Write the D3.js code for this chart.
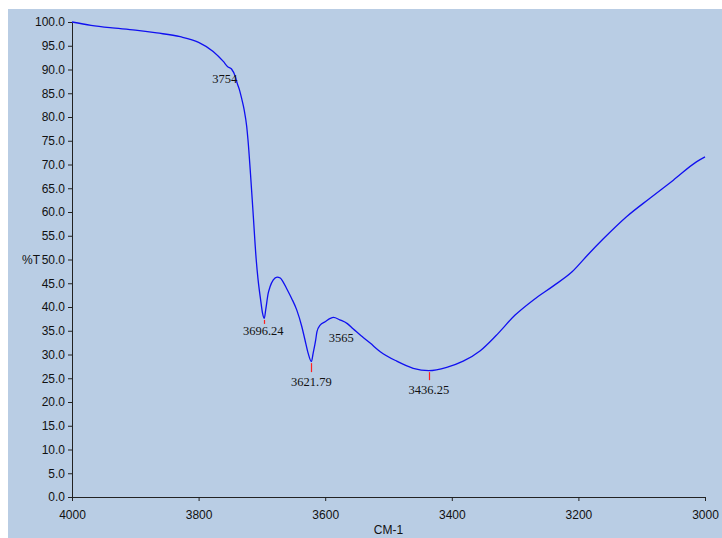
<!DOCTYPE html>
<html>
<head>
<meta charset="utf-8">
<script src="https://cdn.jsdelivr.net/npm/d3@7"></script>
<style>
  html, body { margin: 0; padding: 0; background: #ffffff; }
  svg { display: block; }
  .tick text { font-family: "Liberation Sans", Arial, sans-serif; font-size: 12px; fill: #111; }
  .axis path, .axis line { stroke: #222; }
  .peak { font-family: "Liberation Serif", "Times New Roman", serif; font-size: 12.5px; fill: #111; }
</style>
</head>
<body>
<svg id="chart" width="722" height="538"></svg>
<script>
// IR spectrum, transmittance (%T) vs wavenumber (cm-1)
const wavenumbers = [
  4000, 3970, 3940, 3900, 3866, 3829, 3800, 3777, 3761, 3754, 3748, 3742, 3739, 3735,
  3732, 3728, 3724, 3722, 3718, 3714, 3709, 3706, 3702, 3699, 3696.24, 3694, 3690,
  3687, 3682, 3676, 3671, 3667, 3661, 3653, 3645, 3637, 3632, 3627, 3621.79, 3619,
  3615, 3613, 3608, 3600, 3592, 3587, 3577, 3565, 3556, 3540, 3529, 3513, 3487, 3461,
  3436.25, 3408, 3382, 3355, 3330, 3300, 3270, 3240, 3210, 3185, 3161, 3124,
  3087, 3050, 3013, 3000
];
const transmittance = [
  100.0, 99.3, 98.8, 98.3, 97.7, 96.9, 95.7, 93.8, 91.7, 90.6, 90.1, 88.5, 87.1, 85.5,
  83.9, 81.5, 78.0, 75.2, 68.0, 60.0, 50.0, 45.7, 41.5, 38.7, 37.6, 39.4, 42.9,
  44.3, 45.7, 46.3, 46.1, 45.4, 43.9, 41.8, 39.4, 35.9, 33.1, 30.3, 28.5, 30.3,
  33.1, 34.8, 36.2, 36.9, 37.6, 37.8, 37.3, 36.5, 35.4, 33.6, 32.4, 30.6, 28.6, 27.1,
  26.6, 27.3, 28.6, 30.8, 34.0, 38.3, 41.6, 44.4, 47.4, 51.0, 54.3, 59.0,
  62.9, 66.7, 70.6, 71.6
];

// Annotated peaks
const peakWavenumbers = [3754, 3696.24, 3621.79, 3565, 3436.25];
const peakLabels = ["3754", "3696.24", "3621.79", "3565", "3436.25"];

// Axis ticks
const xTicks = [4000, 3800, 3600, 3400, 3200, 3000];
const yTicks = [0, 5, 10, 15, 20, 25, 30, 35, 40, 45, 50, 55, 60, 65, 70, 75, 80, 85, 90, 95, 100];

// Label placement relative to each peak point: [dx, dy of baseline, red marker length]
const peakLayout = [[-3, 16, 0], [-1, 17, 4], [0, 24, 9], [-6, 18, 0], [0, 23, 8]];

const svg = d3.select("#chart");
const W = 722, H = 538;
const margin = { left: 72, right: 17, top: 22, bottom: 41 };

svg.append("rect")
  .attr("x", 8).attr("y", 9)
  .attr("width", W - 8).attr("height", H - 9)
  .attr("fill", "#b9cde4");

const x = d3.scaleLinear().domain([4000, 3000]).range([margin.left, W - margin.right]);
const y = d3.scaleLinear().domain([0, 100]).range([H - margin.bottom, margin.top]);

// Axes
const xAxis = d3.axisBottom(x).tickValues(xTicks).tickFormat(d3.format("d")).tickSize(4).tickSizeOuter(0).tickPadding(9);
const yAxis = d3.axisLeft(y).tickValues(yTicks).tickFormat(d3.format(".1f")).tickSize(4).tickSizeOuter(0).tickPadding(3);

svg.append("g").attr("class", "axis")
  .attr("transform", `translate(0,${y(0)})`)
  .call(xAxis);
svg.append("g").attr("class", "axis")
  .attr("transform", `translate(${x(4000)},0)`)
  .call(yAxis);

// Axis titles
svg.append("text")
  .attr("x", (x(4000) + x(3000)) / 2).attr("y", 534)
  .attr("text-anchor", "middle")
  .attr("font-family", "Liberation Sans, Arial, sans-serif")
  .attr("font-size", 12).attr("fill", "#111")
  .text("CM-1");
svg.append("text")
  .attr("x", 22).attr("y", y(50)).attr("dy", "0.35em")
  .attr("font-family", "Liberation Sans, Arial, sans-serif")
  .attr("font-size", 12).attr("fill", "#111")
  .text("%T");

// Spectrum trace
const data = wavenumbers.map((w, i) => ({ w, t: transmittance[i] }));
const line = d3.line()
  .x(d => x(d.w))
  .y(d => y(d.t))
  .curve(d3.curveMonotoneX);

svg.append("path")
  .datum(data)
  .attr("d", line)
  .attr("fill", "none")
  .attr("stroke", "#1010f0")
  .attr("stroke-width", 1.3);

// Peak markers and labels
const peaks = peakWavenumbers.map((w, i) => {
  const idx = wavenumbers.indexOf(w);
  return { w, t: transmittance[idx], label: peakLabels[i], lay: peakLayout[i] };
});

svg.append("g").selectAll("line")
  .data(peaks.filter(p => p.lay[2] > 0))
  .join("line")
  .attr("x1", p => Math.round(x(p.w)) + 0.5).attr("x2", p => Math.round(x(p.w)) + 0.5)
  .attr("y1", p => y(p.t) + 1.5).attr("y2", p => y(p.t) + 1.5 + p.lay[2])
  .attr("stroke", "#ff2020").attr("stroke-width", 1.2);

svg.append("g").selectAll("text")
  .data(peaks)
  .join("text")
  .attr("class", "peak")
  .attr("x", p => x(p.w) + p.lay[0])
  .attr("y", p => y(p.t) + p.lay[1])
  .attr("text-anchor", "middle")
  .text(p => p.label);
</script>
</body>
</html>
